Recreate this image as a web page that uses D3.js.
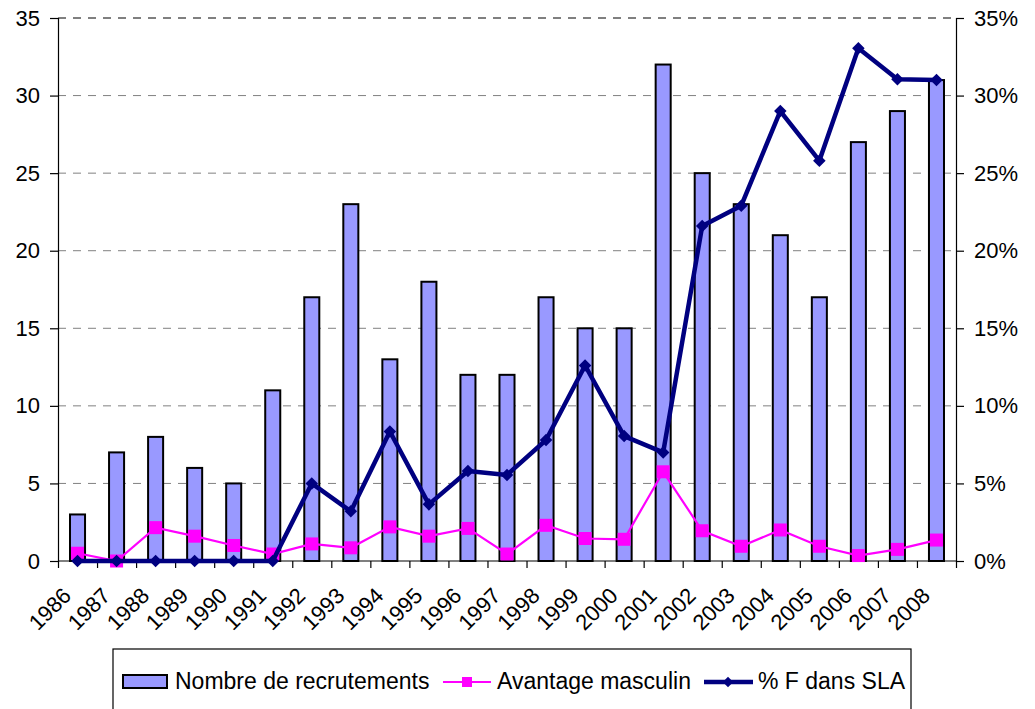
<!DOCTYPE html>
<html lang="fr">
<head>
<meta charset="UTF-8">
<title>Recrutements</title>
<script src="https://cdnjs.cloudflare.com/ajax/libs/d3/7.8.5/d3.min.js"></script>
<style>
  body { margin: 0; background: #fff; }
  svg text { font-family: "Liberation Sans", Arial, sans-serif; fill: #000; }
</style>
</head>
<body>
<div id="chart"></div>
<script>
// data
var years = ["1986","1987","1988","1989","1990","1991","1992","1993","1994","1995","1996","1997",
             "1998","1999","2000","2001","2002","2003","2004","2005","2006","2007","2008"];
var recrutements = [3, 7, 8, 6, 5, 11, 17, 23, 13, 18, 12, 12, 17, 15, 15, 32, 25, 23, 21, 17, 27, 29, 31];
// percentages (right axis)
var avantageMasculin = [0.5, 0, 2.15, 1.6, 1.0, 0.45, 1.1, 0.85, 2.2, 1.6, 2.1, 0.45,
                        2.3, 1.45, 1.4, 5.75, 1.95, 0.95, 2.0, 0.95, 0.35, 0.75, 1.35];
var pctF = [0, 0, 0, 0, 0, 0, 5.0, 3.2, 8.35, 3.65, 5.8, 5.55,
            7.8, 12.6, 8.05, 7.0, 21.6, 22.9, 29.0, 25.8, 33.05, 31.05, 31.0];
var leftTicks = [0, 5, 10, 15, 20, 25, 30, 35];

var W = 1035, H = 709;
var plotLeft = 58, plotRight = 956, plotTop = 18, plotBottom = 561;

var svg = d3.select("#chart").append("svg")
    .attr("width", W)
    .attr("height", H);

var x = d3.scaleBand().domain(years).range([plotLeft, plotRight]).padding(0);
var yL = d3.scaleLinear().domain([0, 35]).range([plotBottom, plotTop]);
var yR = d3.scaleLinear().domain([0, 35]).range([plotBottom, plotTop]);

// gridlines
svg.append("g").selectAll("line")
    .data(leftTicks.filter(function(d) { return d > 0; }))
    .enter().append("line")
    .attr("x1", plotLeft).attr("x2", plotRight)
    .attr("y1", function(d) { return yL(d); })
    .attr("y2", function(d) { return yL(d); })
    .attr("stroke", function(d) { return d == 35 ? "#000" : "#808080"; })
    .attr("stroke-width", 1)
    .attr("stroke-dasharray", "8,7");

// bars
var barW = x.bandwidth() * 0.385;
svg.append("g").selectAll("rect")
    .data(recrutements)
    .enter().append("rect")
    .attr("x", function(d, i) { return x(years[i]) + x.bandwidth() / 2 - barW / 2; })
    .attr("y", function(d) { return yL(d); })
    .attr("width", barW)
    .attr("height", function(d) { return plotBottom - yL(d); })
    .attr("fill", "#9999FF")
    .attr("stroke", "#000")
    .attr("stroke-width", 2);

// axes
var axL = svg.append("g")
    .attr("transform", "translate(" + plotLeft + ",0)")
    .call(d3.axisLeft(yL).tickValues(leftTicks).tickSize(8).tickPadding(10));
var axR = svg.append("g")
    .attr("transform", "translate(" + plotRight + ",0)")
    .call(d3.axisRight(yR).tickValues(leftTicks).tickSize(8).tickPadding(10)
        .tickFormat(function(d) { return d + "%"; }));
var bounds = [plotLeft].concat(years.map(function(d) { return x(d) + x.bandwidth(); }));
var axB = svg.append("g")
    .attr("transform", "translate(0," + plotBottom + ")")
    .call(d3.axisBottom(d3.scaleLinear().domain([plotLeft, plotRight]).range([plotLeft, plotRight]))
        .tickValues(bounds).tickSize(7).tickFormat(""));

[axL, axR, axB].forEach(function(a) {
    a.select(".domain").attr("stroke", "#000").attr("stroke-width", 1.2);
    a.selectAll(".tick line").attr("stroke", "#000").attr("stroke-width", 1.2);
    a.selectAll("text").style("font-size", "22px").attr("fill", "#000");
});
axB.select(".domain").attr("d", "M" + plotLeft + ",0H" + plotRight);

// category labels
svg.append("g").selectAll("text")
    .data(years)
    .enter().append("text")
    .attr("transform", function(d) {
        return "translate(" + (x(d) + x.bandwidth() / 2 - 5) + ",597) rotate(-45)";
    })
    .attr("text-anchor", "end")
    .style("font-size", "22px")
    .text(function(d) { return d; });

// lines
var cx = function(d, i) { return x(years[i]) + x.bandwidth() / 2; };
var pctLine = d3.line().x(cx).y(function(d) { return yR(d); });

svg.append("path")
    .datum(avantageMasculin)
    .attr("d", pctLine)
    .attr("fill", "none")
    .attr("stroke", "#FF00FF")
    .attr("stroke-width", 2.2);
svg.append("g").selectAll("rect")
    .data(avantageMasculin)
    .enter().append("rect")
    .attr("x", function(d, i) { return cx(d, i) - 6.5; })
    .attr("y", function(d) { return yR(d) - 6.5; })
    .attr("width", 13).attr("height", 13)
    .attr("fill", "#FF00FF");

svg.append("path")
    .datum(pctF)
    .attr("d", pctLine)
    .attr("fill", "none")
    .attr("stroke", "#000080")
    .attr("stroke-width", 4.5)
    .attr("stroke-linejoin", "round");
var diamond = d3.symbol().type(d3.symbolDiamond2).size(100);
svg.append("g").selectAll("path")
    .data(pctF)
    .enter().append("path")
    .attr("d", diamond)
    .attr("transform", function(d, i) { return "translate(" + cx(d, i) + "," + yR(d) + ")"; })
    .attr("fill", "#000080");

// legend
var lg = svg.append("g");
lg.append("rect")
    .attr("x", 113).attr("y", 649)
    .attr("width", 798).attr("height", 80)
    .attr("fill", "#fff").attr("stroke", "#000").attr("stroke-width", 1.2);
lg.append("rect")
    .attr("x", 123).attr("y", 675).attr("width", 44).attr("height", 13)
    .attr("fill", "#9999FF").attr("stroke", "#000").attr("stroke-width", 2);
lg.append("text").attr("x", 175).attr("y", 689).style("font-size", "23px").text("Nombre de recrutements");

lg.append("line").attr("x1", 443).attr("x2", 491).attr("y1", 682).attr("y2", 682)
    .attr("stroke", "#FF00FF").attr("stroke-width", 2.2);
lg.append("rect").attr("x", 462).attr("y", 677).attr("width", 10).attr("height", 10).attr("fill", "#FF00FF");
lg.append("text").attr("x", 497).attr("y", 689).style("font-size", "23px").text("Avantage masculin");

lg.append("line").attr("x1", 704).attr("x2", 753).attr("y1", 682).attr("y2", 682)
    .attr("stroke", "#000080").attr("stroke-width", 4.5);
lg.append("path").attr("d", d3.symbol().type(d3.symbolDiamond2).size(70))
    .attr("transform", "translate(728,682)").attr("fill", "#000080");
lg.append("text").attr("x", 758).attr("y", 689).style("font-size", "23px").text("% F dans SLA");
</script>
</body>
</html>
